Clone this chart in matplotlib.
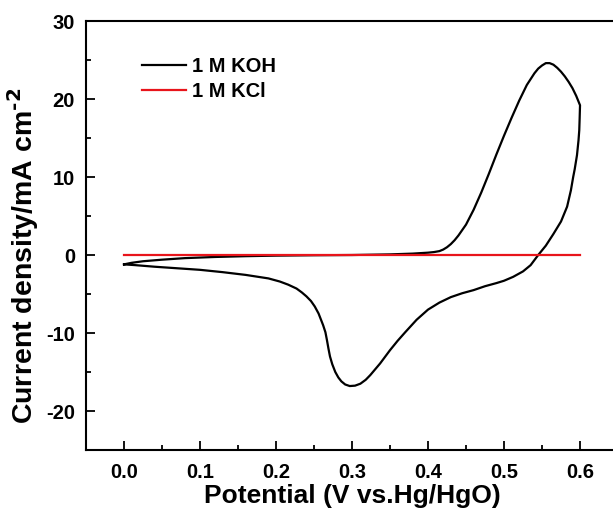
import matplotlib
matplotlib.use("Agg")
import matplotlib.pyplot as plt
from matplotlib.ticker import MultipleLocator

plt.rcParams['font.family'] = ['Liberation Sans', 'DejaVu Sans']
plt.rcParams['font.weight'] = 'bold'
plt.rcParams['axes.labelweight'] = 'bold'
plt.rcParams['mathtext.default'] = 'bf'
plt.rcParams['axes.unicode_minus'] = False

# CV loop in 1 M KOH: anodic sweep 0 -> 0.6 V then cathodic back to 0 V
koh_potential = [
    0.000, 0.010, 0.025, 0.050, 0.080, 0.120, 0.160, 0.200, 0.250, 0.300,
    0.350, 0.380, 0.400, 0.408, 0.415, 0.420, 0.425, 0.430, 0.435, 0.440,
    0.445, 0.450, 0.460, 0.470, 0.480, 0.490, 0.500, 0.510, 0.520, 0.530,
    0.540, 0.545, 0.550, 0.555, 0.560, 0.565, 0.570, 0.575, 0.580, 0.585,
    0.590, 0.595, 0.600,
    0.5995, 0.599, 0.598, 0.596, 0.593, 0.591, 0.588, 0.583, 0.575, 0.565,
    0.555, 0.545, 0.535, 0.525, 0.512, 0.500, 0.490, 0.475, 0.460, 0.445,
    0.430, 0.415, 0.400, 0.385, 0.370, 0.360, 0.350, 0.337, 0.324, 0.318,
    0.311, 0.304, 0.297, 0.291, 0.286, 0.282, 0.278, 0.274, 0.271, 0.269,
    0.267, 0.265, 0.262, 0.260, 0.256, 0.251, 0.246, 0.240, 0.234, 0.227,
    0.216, 0.205, 0.190, 0.160, 0.130, 0.100, 0.070, 0.040, 0.015, 0.000,
]
koh_current = [
    -1.2, -1.0, -0.8, -0.6, -0.4, -0.25, -0.15, -0.08, -0.03, 0.0,
    0.08, 0.18, 0.3, 0.38, 0.5, 0.7, 1.0, 1.4, 1.9, 2.5,
    3.2, 3.9, 5.8, 8.0, 10.4, 12.9, 15.3, 17.6, 19.8, 21.8,
    23.3, 23.9, 24.3, 24.6, 24.6, 24.4, 24.0, 23.5, 22.9, 22.2,
    21.4, 20.4, 19.2,
    17.5, 16.0, 14.7, 12.8, 11.0, 10.0, 8.3, 6.2, 4.3, 2.7,
    1.2, 0.0, -1.3, -2.1, -2.8, -3.3, -3.6, -4.0, -4.5, -4.9,
    -5.4, -6.1, -7.0, -8.3, -9.9, -11.0, -12.2, -13.9, -15.4, -16.0,
    -16.5, -16.75, -16.8, -16.6, -16.2, -15.7, -15.0, -14.0, -13.0, -12.0,
    -10.9, -9.9, -9.0, -8.5, -7.5, -6.6, -5.9, -5.3, -4.8, -4.3,
    -3.8, -3.4, -3.0, -2.55, -2.2, -1.9, -1.7, -1.5, -1.3, -1.2,
]

# 1 M KCl gives essentially a flat response
kcl_potential = [0.0, 0.1, 0.2, 0.3, 0.4, 0.5, 0.6]
kcl_current = [0.0, 0.0, 0.0, 0.0, 0.0, 0.0, 0.0]

x_ticks = [0.0, 0.1, 0.2, 0.3, 0.4, 0.5, 0.6]
y_ticks = [-20, -10, 0, 10, 20, 30]

fig = plt.figure(figsize=(6.13, 5.15), dpi=100)
ax = fig.add_axes([0.1403, 0.1262, 0.8679, 0.8330])

ax.plot(koh_potential, koh_current, color='black', lw=1.6, label='1 M KOH',
        solid_joinstyle='round')
ax.plot(kcl_potential, kcl_current, color='#e8141b', lw=1.6, label='1 M KCl')

ax.set_xlim(-0.05, 0.65)
ax.set_ylim(-25, 30)
ax.set_xticks(x_ticks)
ax.set_yticks(y_ticks)
ax.xaxis.set_minor_locator(MultipleLocator(0.05))
ax.yaxis.set_minor_locator(MultipleLocator(5))
ax.tick_params(which='both', direction='in', width=1.3, labelsize=14.5)
ax.tick_params(which='major', length=6.5)
ax.tick_params(axis='x', which='major', pad=9)
ax.tick_params(axis='y', which='major', pad=8)
ax.tick_params(which='minor', length=3.5)
for s in ax.spines.values():
    s.set_linewidth(1.5)

ax.set_xlabel('Potential (V vs.Hg/HgO)', fontsize=19, labelpad=2)
ax.set_ylabel(r'Current density/mA cm$^{\text{-2}}$', fontsize=20.5)
ax.yaxis.set_label_coords(-0.085, 0.453)

ax.legend(loc='upper left', bbox_to_anchor=(0.09, 0.935), frameon=False,
          fontsize=14.5, handlelength=2.2, handletextpad=0.3, labelspacing=0.3,
          borderaxespad=0)

fig.savefig('out.png', dpi=100)
